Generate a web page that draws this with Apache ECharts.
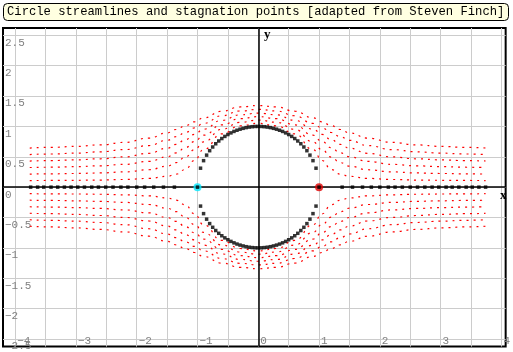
<!DOCTYPE html>
<html>
<head>
<meta charset="utf-8">
<title>Circle streamlines</title>
<script src="https://cdn.jsdelivr.net/npm/echarts@6/dist/echarts.min.js"></script>
<style>
  html, body { margin: 0; padding: 0; background: #fff; }
  #chart1 { width: 513px; height: 352px; }
</style>
</head>
<body>
<div id="chart1"></div>
<script>
const titleText = "Circle streamlines and stagnation points [adapted from Steven Finch]";

// grid lines every 0.5, labels at integers on x and every 0.5 on y
const xGridTicks = [-4, -3.5, -3, -2.5, -2, -1.5, -1, -0.5, 0, 0.5, 1, 1.5, 2, 2.5, 3, 3.5, 4];
const xLabelTicks = [-4, -3, -2, -1, 0, 1, 2, 3, 4];
const yGridTicks = [-2.5, -2, -1.5, -1, -0.5, 0, 0.5, 1, 1.5, 2, 2.5];

// x positions shared by all streamlines
const streamX = [-3.76, -3.4, -3.0, -2.6, -2.2, -1.8, -1.5, -1.35, -1.2, -1.05, -0.9, -0.6, -0.3, 0,
                 0.3, 0.6, 0.9, 1.05, 1.2, 1.35, 1.5, 1.8, 2.2, 2.6, 3.0, 3.4, 3.74];

// upper streamlines (psi = 0.1 .. 0.6)
const up1 = [0.108,0.110,0.113,0.117,0.126,0.144,0.178,0.215,0.291,0.439,0.619,0.877,1.010,1.051,
             1.010,0.877,0.619,0.439,0.291,0.215,0.178,0.144,0.126,0.117,0.113,0.110,0.108];
const up2 = [0.215,0.219,0.225,0.234,0.251,0.286,0.346,0.403,0.494,0.616,0.746,0.952,1.068,1.105,
             1.068,0.952,0.746,0.616,0.494,0.403,0.346,0.286,0.251,0.234,0.225,0.219,0.215];
const up3 = [0.323,0.328,0.337,0.351,0.375,0.424,0.500,0.564,0.648,0.751,0.855,1.026,1.128,1.161,
             1.128,1.026,0.855,0.751,0.648,0.564,0.500,0.424,0.375,0.351,0.337,0.328,0.323];
const up4 = [0.430,0.437,0.449,0.467,0.498,0.557,0.641,0.704,0.781,0.869,0.955,1.100,1.190,1.220,
             1.190,1.100,0.955,0.869,0.781,0.704,0.641,0.557,0.498,0.467,0.449,0.437,0.430];
const up5 = [0.537,0.546,0.560,0.582,0.618,0.685,0.771,0.831,0.900,0.975,1.049,1.175,1.254,1.281,
             1.254,1.175,1.049,0.975,0.900,0.831,0.771,0.685,0.618,0.582,0.560,0.546,0.537];
const up6 = [0.644,0.655,0.671,0.696,0.737,0.808,0.893,0.949,1.011,1.076,1.141,1.250,1.320,1.344,
             1.320,1.250,1.141,1.076,1.011,0.949,0.893,0.808,0.737,0.696,0.671,0.655,0.644];

// lower streamlines
const lo1 = [-0.108,-0.110,-0.113,-0.117,-0.126,-0.144,-0.178,-0.215,-0.291,-0.439,-0.619,-0.877,-1.010,-1.051,
             -1.010,-0.877,-0.619,-0.439,-0.291,-0.215,-0.178,-0.144,-0.126,-0.117,-0.113,-0.110,-0.108];
const lo2 = [-0.215,-0.219,-0.225,-0.234,-0.251,-0.286,-0.346,-0.403,-0.494,-0.616,-0.746,-0.952,-1.068,-1.105,
             -1.068,-0.952,-0.746,-0.616,-0.494,-0.403,-0.346,-0.286,-0.251,-0.234,-0.225,-0.219,-0.215];
const lo3 = [-0.323,-0.328,-0.337,-0.351,-0.375,-0.424,-0.500,-0.564,-0.648,-0.751,-0.855,-1.026,-1.128,-1.161,
             -1.128,-1.026,-0.855,-0.751,-0.648,-0.564,-0.500,-0.424,-0.375,-0.351,-0.337,-0.328,-0.323];
const lo4 = [-0.430,-0.437,-0.449,-0.467,-0.498,-0.557,-0.641,-0.704,-0.781,-0.869,-0.955,-1.100,-1.190,-1.220,
             -1.190,-1.100,-0.955,-0.869,-0.781,-0.704,-0.641,-0.557,-0.498,-0.467,-0.449,-0.437,-0.430];
const lo5 = [-0.537,-0.546,-0.560,-0.582,-0.618,-0.685,-0.771,-0.831,-0.900,-0.975,-1.049,-1.175,-1.254,-1.281,
             -1.254,-1.175,-1.049,-0.975,-0.900,-0.831,-0.771,-0.685,-0.618,-0.582,-0.560,-0.546,-0.537];
const lo6 = [-0.644,-0.655,-0.671,-0.696,-0.737,-0.808,-0.893,-0.949,-1.011,-1.076,-1.141,-1.250,-1.320,-1.344,
             -1.320,-1.250,-1.141,-1.076,-1.011,-0.949,-0.893,-0.808,-0.737,-0.696,-0.671,-0.655,-0.644];

// circle (psi = 0) dots
const circleX = [-0.95,-0.90,-0.85,-0.80,-0.75,-0.70,-0.65,-0.60,-0.55,-0.50,-0.45,-0.40,-0.35,-0.30,-0.25,-0.20,-0.15,-0.10,-0.05,0,
                 0.05,0.10,0.15,0.20,0.25,0.30,0.35,0.40,0.45,0.50,0.55,0.60,0.65,0.70,0.75,0.80,0.85,0.90,0.95];
const circleTop = [0.312,0.436,0.527,0.600,0.661,0.714,0.760,0.800,0.835,0.866,0.893,0.917,0.937,0.954,0.968,0.980,0.989,0.995,0.999,1.000,
                   0.999,0.995,0.989,0.980,0.968,0.954,0.937,0.917,0.893,0.866,0.835,0.800,0.760,0.714,0.661,0.600,0.527,0.436,0.312];
const circleBottom = [-0.312,-0.436,-0.527,-0.600,-0.661,-0.714,-0.760,-0.800,-0.835,-0.866,-0.893,-0.917,-0.937,-0.954,-0.968,-0.980,-0.989,-0.995,-0.999,-1.000,
                      -0.999,-0.995,-0.989,-0.980,-0.968,-0.954,-0.937,-0.917,-0.893,-0.866,-0.835,-0.800,-0.760,-0.714,-0.661,-0.600,-0.527,-0.436,-0.312];

// dots on the x axis (psi = 0 outside the circle)
const axisDotsX = [-3.745,-3.63,-3.53,-3.41,-3.30,-3.19,-3.08,-2.97,-2.86,-2.74,-2.63,-2.51,-2.39,-2.26,-2.145,-2.0,-1.87,-1.72,-1.56,-1.38,
                   1.38,1.55,1.715,1.86,2.0,2.14,2.25,2.37,2.50,2.62,2.74,2.86,2.97,3.09,3.19,3.30,3.42,3.52,3.63,3.74];

// stagnation points
const stagX = [-1, 1];
const stagY = [0, 0];

const zip = (xs, ys) => xs.map((x, i) => [x, ys[i]]);

const streamLines = [up1, up2, up3, up4, up5, up6, lo1, lo2, lo3, lo4, lo5, lo6];

const labelFont = '"Liberation Mono", "DejaVu Sans Mono", monospace';

const streamSeries = streamLines.map((ys, i) => ({
  type: 'line',
  data: zip(streamX, ys),
  showSymbol: false,
  smooth: 0.5,
  smoothMonotone: 'x',
  silent: true,
  z: 2,
  lineStyle: { color: '#ff0000', width: 1.2, type: [2, 5] }
}));

const initCharts = () => {
  const chart1 = echarts.init(document.getElementById('chart1'));

  const option = {
    animation: false,
    backgroundColor: '#fff',
    title: {
      text: titleText,
      left: 3,
      top: 3,
      padding: [2, 4, 2, 4],
      backgroundColor: '#ffffe1',
      borderColor: '#000',
      borderWidth: 1,
      borderRadius: 4,
      textStyle: {
        fontFamily: labelFont,
        fontSize: 12.2,
        fontWeight: 'normal',
        color: '#000',
        lineHeight: 14
      }
    },
    grid: {
      left: 3, right: 2, top: 28, bottom: 3,
      show: true,
      borderColor: '#000',
      borderWidth: 2,
      containLabel: false
    },
    xAxis: {
      type: 'value',
      min: -4.2,
      max: 4.07,
      position: 'bottom',
      axisLine: { show: false, onZero: false },
      axisTick: { show: false, customValues: xGridTicks },
      splitLine: { show: true, lineStyle: { color: '#cccccc', width: 1 } },
      axisLabel: {
        customValues: xLabelTicks,
        inside: true,
        margin: 0,
        align: 'left',
        verticalAlign: 'bottom',
        padding: [0, 0, 0, 2],
        fontFamily: labelFont,
        fontSize: 11,
        color: '#808080',
        formatter: v => String(v).replace('-', '\u2212')
      }
    },
    yAxis: {
      type: 'value',
      min: -2.625,
      max: 2.62,
      position: 'left',
      axisLine: { show: false, onZero: false },
      axisTick: { show: false, customValues: yGridTicks },
      splitLine: { show: true, lineStyle: { color: '#cccccc', width: 1 } },
      axisLabel: {
        customValues: yGridTicks,
        inside: true,
        margin: 2,
        align: 'left',
        verticalAlign: 'top',
        padding: [2, 0, 0, 0],
        fontFamily: labelFont,
        fontSize: 11,
        color: '#808080',
        formatter: v => String(v).replace('-', '\u2212')
      }
    },
    graphic: [
      { type: 'text', left: 500, top: 189, z: 100,
        style: { text: 'x', fill: '#000', font: 'bold 13px "Liberation Serif", serif' } },
      { type: 'text', left: 264, top: 28, z: 100,
        style: { text: 'y', fill: '#000', font: 'bold 13px "Liberation Serif", serif' } }
    ],
    series: [
      {
        type: 'line',
        data: [],
        silent: true,
        markLine: {
          silent: true,
          symbol: ['none', 'none'],
          label: { show: false },
          lineStyle: { color: '#000', width: 1.5, type: 'solid' },
          data: [{ xAxis: 0 }, { yAxis: 0 }]
        }
      },
      ...streamSeries,
      {
        type: 'scatter',
        data: zip(circleX, circleTop).concat(zip(circleX, circleBottom)),
        symbol: 'rect',
        symbolSize: 3.5,
        silent: true,
        z: 5,
        itemStyle: { color: '#000' }
      },
      {
        type: 'scatter',
        data: axisDotsX.map(x => [x, 0]),
        symbol: 'rect',
        symbolSize: 3.5,
        silent: true,
        z: 5,
        itemStyle: { color: '#000' }
      },
      {
        type: 'scatter',
        data: [
          { value: [stagX[0], stagY[0]], itemStyle: { color: '#00e8ff' } },
          { value: [stagX[1], stagY[1]], itemStyle: { color: '#e00000' } }
        ],
        symbol: 'circle',
        symbolSize: 8,
        silent: true,
        z: 6
      },
      {
        type: 'scatter',
        data: zip(stagX, stagY),
        symbol: 'rect',
        symbolSize: 3.5,
        silent: true,
        z: 7,
        itemStyle: { color: '#000' }
      }
    ]
  };

  chart1.setOption(option);
};

document.addEventListener('DOMContentLoaded', function () {
  initCharts();
});
</script>
</body>
</html>
